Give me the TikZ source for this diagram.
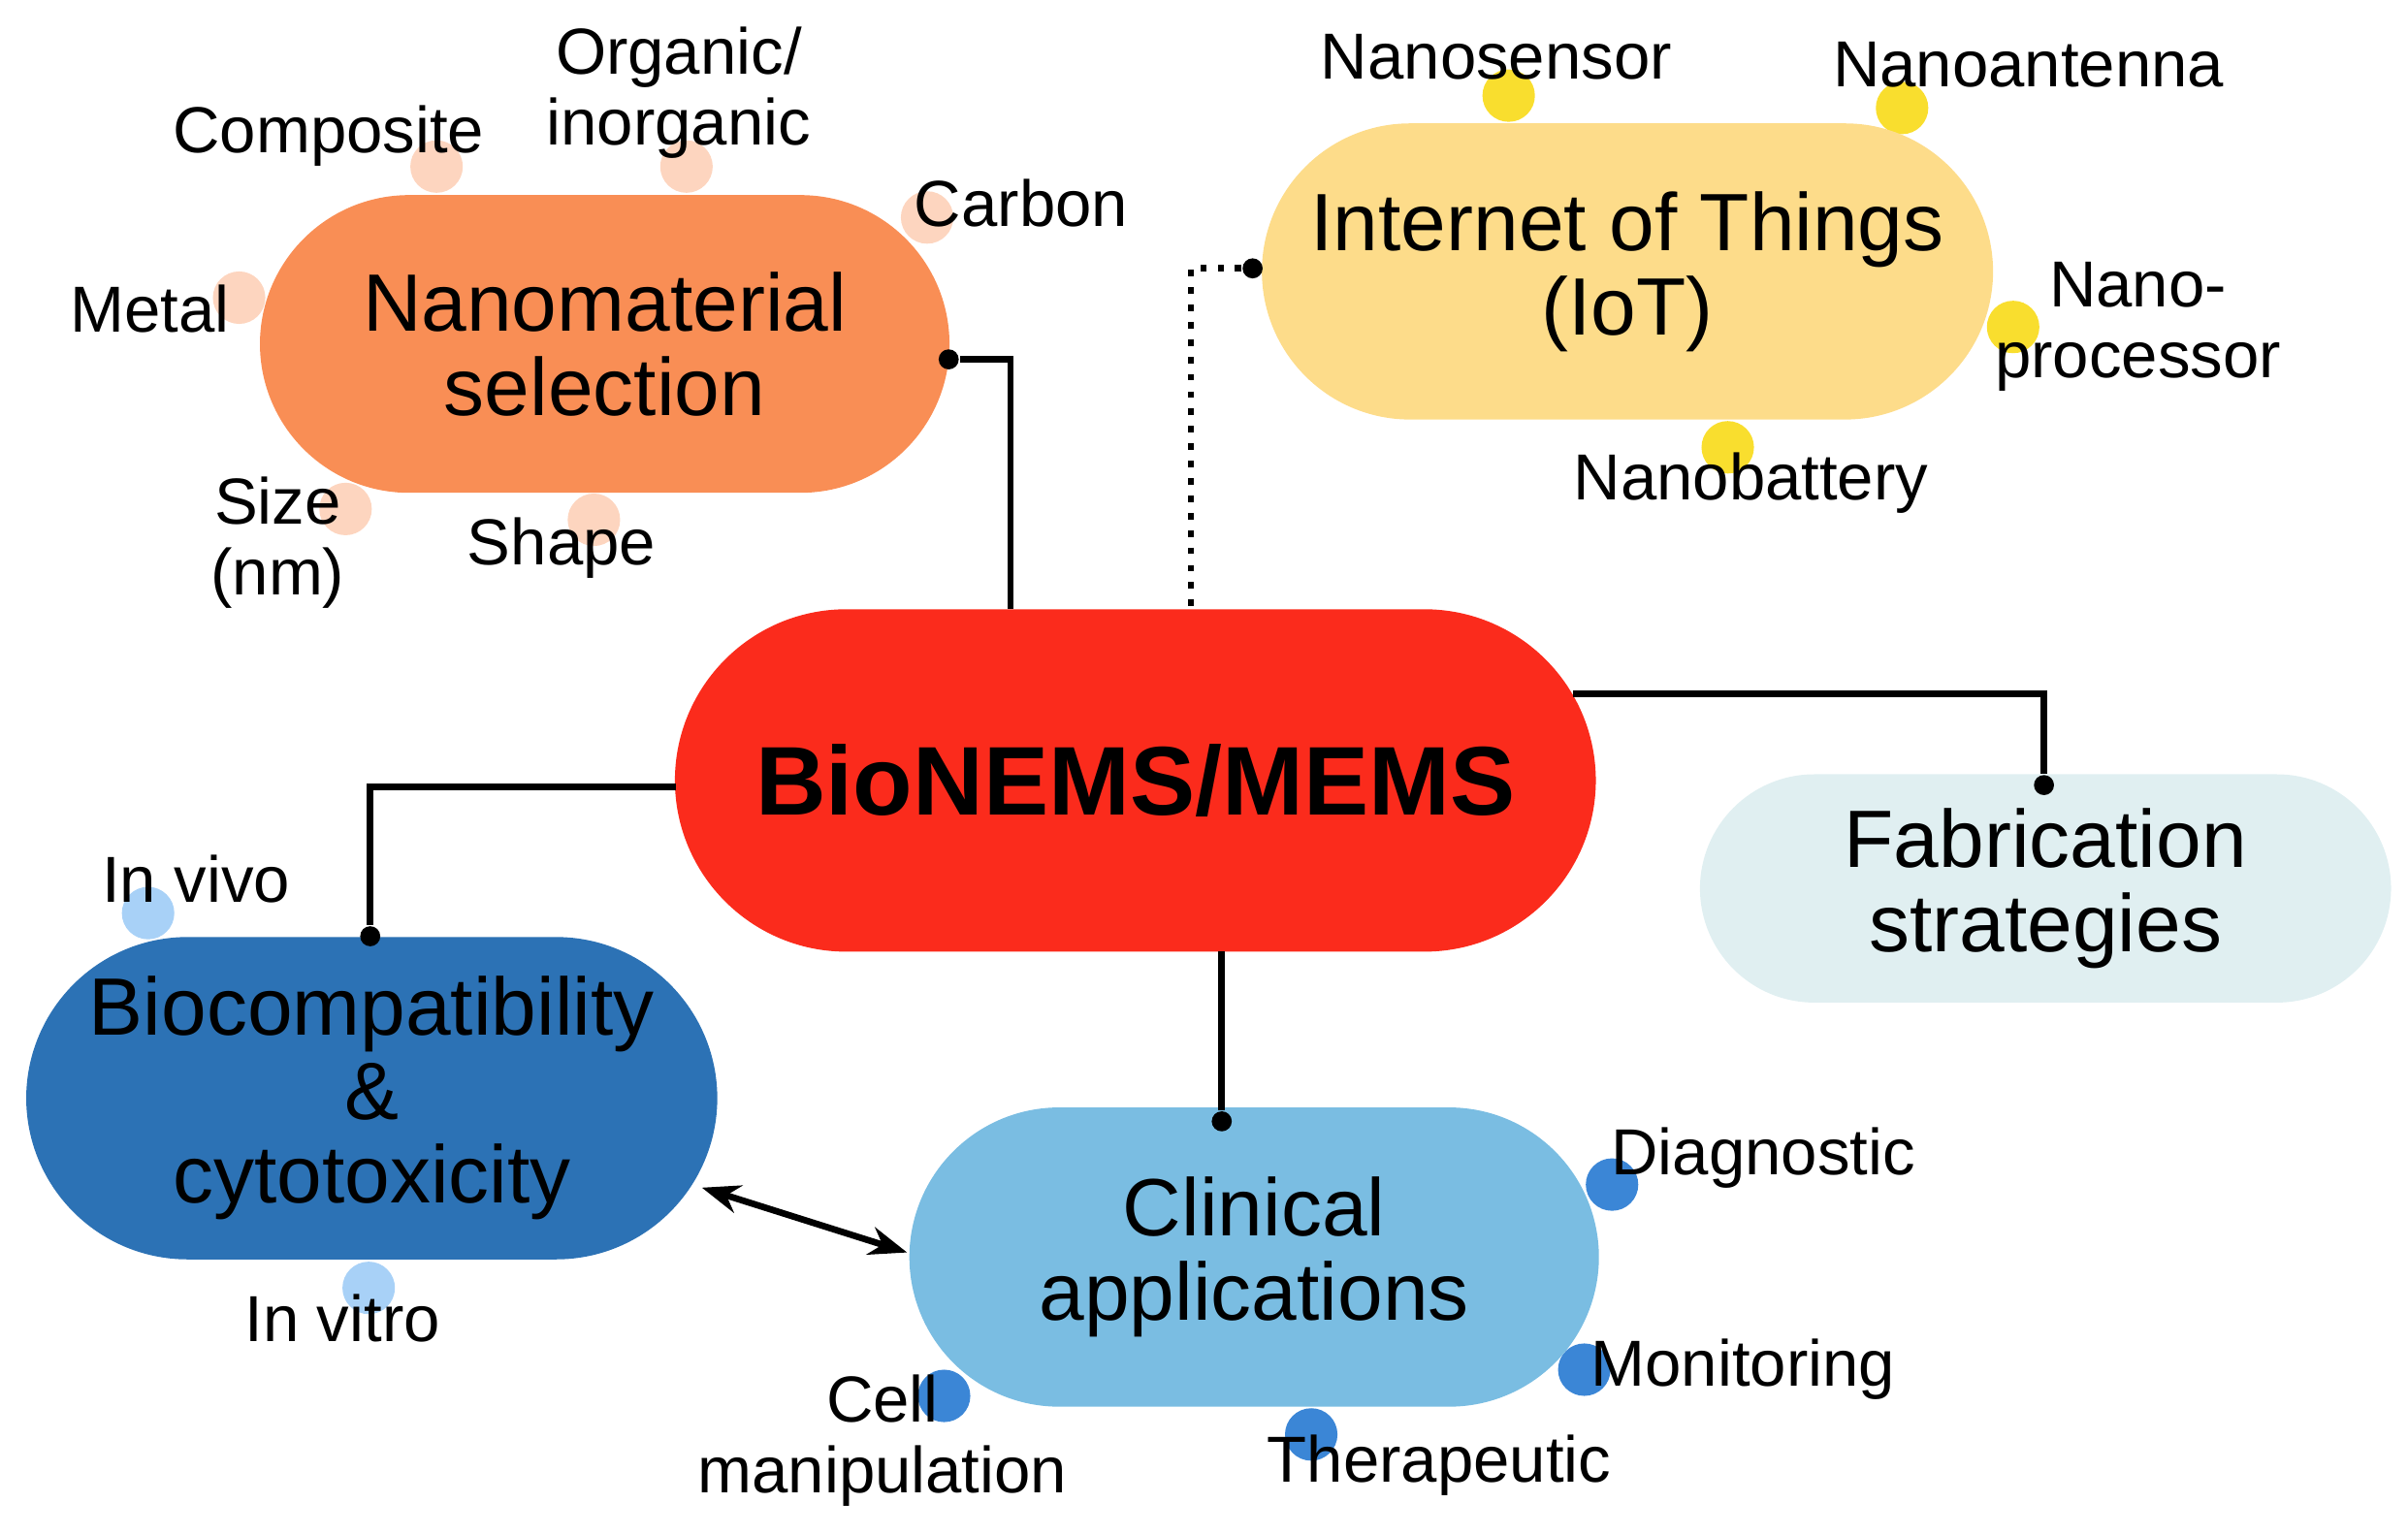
\documentclass[tikz,border=0pt]{standalone}
\usepackage{fontspec}
\setmainfont{Liberation Sans}
\usetikzlibrary{arrows.meta}
\definecolor{cNano}{HTML}{F98E55}
\definecolor{cIoT}{HTML}{FDDC8A}
\definecolor{cBio}{HTML}{FB2B1C}
\definecolor{cFab}{HTML}{E0EFF1}
\definecolor{cComp}{HTML}{2C72B5}
\definecolor{cClin}{HTML}{7ABDE2}
\definecolor{dNano}{HTML}{FDD5BF}
\definecolor{dIoT}{HTML}{F9DE2E}
\definecolor{dComp}{HTML}{A8D1F7}
\definecolor{dClin}{HTML}{3B86D6}
\begin{document}
\begin{tikzpicture}[x=0.01cm,y=-0.01cm,
  pill/.style args={#1/#2/#3}{rectangle,fill=#1,minimum width=#2*0.01cm,minimum height=#3*0.01cm,rounded corners=#3*0.005cm,inner sep=0,align=center,font=\fontsize{15}{15.5}\selectfont},
  sat/.style={circle,fill=#1,minimum size=0.34cm,inner sep=0},
  lab/.style={font=\fontsize{12}{13}\selectfont,align=center,inner sep=0},
  jd/.style={circle,fill=black,minimum size=0.13cm,inner sep=0},
  ln/.style={line width=1.2pt}]
\useasboundingbox (0,0) rectangle (1561,995);
% satellites (behind)
\node[sat=dNano] (s1) at (283,108) {};
\node[sat=dNano] (s2) at (445,108) {};
\node[sat=dNano] (s3) at (601,141) {};
\node[sat=dNano] (s4) at (155,193) {};
\node[sat=dNano] (s5) at (224,330) {};
\node[sat=dNano] (s6) at (385,337) {};
\node[sat=dIoT] (t1) at (978,62) {};
\node[sat=dIoT] (t2) at (1233,70) {};
\node[sat=dIoT] (t3) at (1305,212) {};
\node[sat=dIoT] (t4) at (1120,290) {};
\node[sat=dComp] (b1) at (96,592) {};
\node[sat=dComp] (b2) at (239,835) {};
\node[sat=dClin] (c1) at (1045,768) {};
\node[sat=dClin] (c2) at (1027,888) {};
\node[sat=dClin] (c3) at (850,930) {};
\node[sat=dClin] (c4) at (612,905) {};
% pills
\node[pill=cNano/447/193] (nano) at (392,223) {Nanomaterial\\selection};
\node[pill=cIoT/474/192] (iot) at (1055,176) {Internet of Things\\(IoT)};
\node[pill=cBio/597/222,font=\fontsize{18}{20}\selectfont\bfseries] (bio) at (736,506) {BioNEMS/MEMS};
\node[pill=cFab/448/148] (fab) at (1326,576) {Fabrication\\strategies};
\node[pill=cComp/448/209] (comp) at (241,712) {Biocompatibility\\\&\\cytotoxicity};
\node[pill=cClin/447/194] (clin) at (813,815) {Clinical\\applications};
% connectors
\node[jd] (j1) at (615,233) {};
\draw[ln] (j1) -- (655,233) -- (655,395);
\node[jd] (j2) at (812,174) {};
\draw[ln,dotted] (j2) -- (772,174) -- (772,395);
\node[jd] (j3) at (1325,509) {};
\draw[ln] (1020,450) -- (1325,450) -- (j3);
\node[jd] (j4) at (240,607) {};
\draw[ln] (438,510) -- (240,510) -- (j4);
\node[jd] (j5) at (792,727) {};
\draw[ln] (792,617) -- (j5);
\coordinate (a1) at (455,770);
\coordinate (a2) at (588,812);
\draw[ln,{Stealth[length=7pt]}-{Stealth[length=7pt]}] (a1) -- (a2);
% labels
\node[lab] at (213,88) {Composite};
\node[lab] at (440,60) {Organic/\\inorganic};
\node[lab] at (662,132) {Carbon};
\node[lab] at (97,200) {Metal};
\node[lab] at (180,352) {Size\\(nm)};
\node[lab] at (364,355) {Shape};
\node[lab] at (970,37) {Nanosensor};
\node[lab] at (1315,42) {Nanoantenna};
\node[lab,align=left] at (1386,212) {\hspace*{0.35cm}Nano-\\processor};
\node[lab] at (1135,313) {Nanobattery};
\node[lab] at (127,570) {In vivo};
\node[lab] at (222,855) {In vitro};
\node[lab] at (1143,751) {Diagnostic};
\node[lab] at (1130,888) {Monitoring};
\node[lab] at (933,950) {Therapeutic};
\node[lab] at (572,934) {Cell\\manipulation};
\end{tikzpicture}
\end{document}
